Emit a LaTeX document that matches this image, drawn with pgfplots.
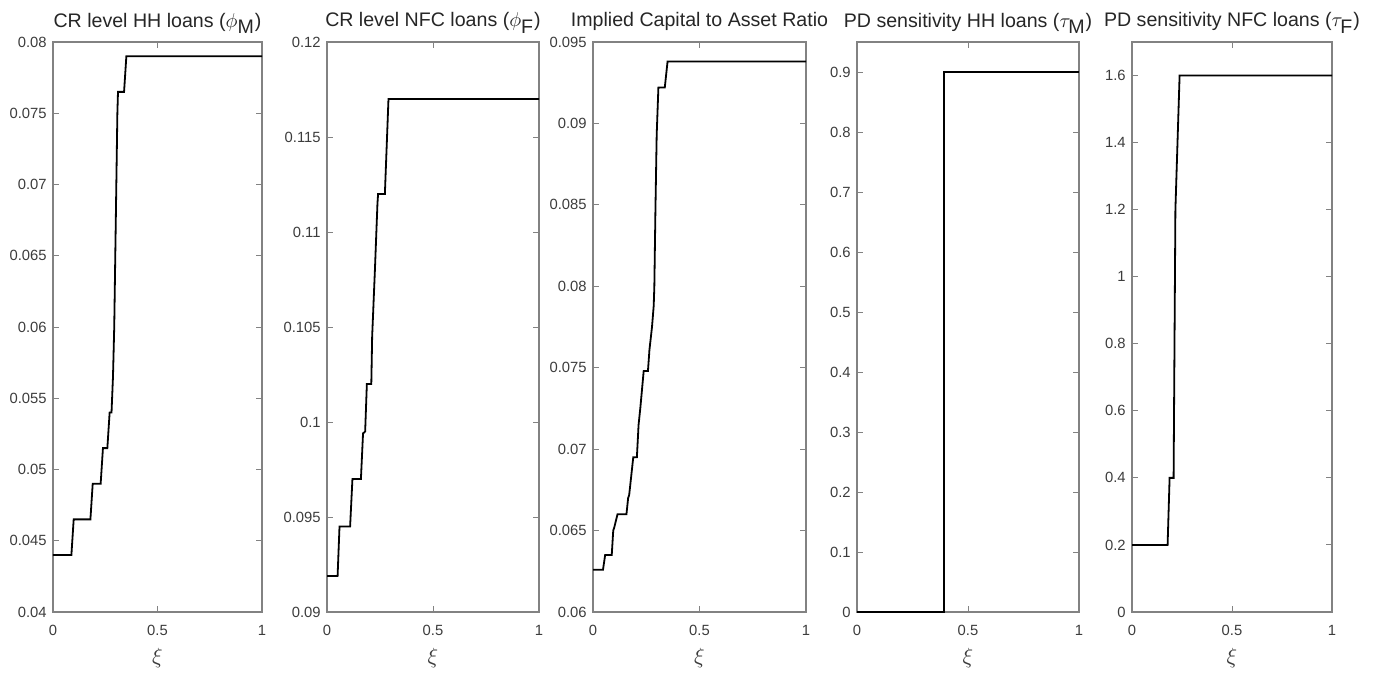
\documentclass[border=0pt]{standalone}
\usepackage{fontspec}
\setmainfont{Liberation Sans}
\usepackage{pgfplots}
\pgfplotsset{compat=1.18}
\definecolor{axgray}{RGB}{130,130,130}
\definecolor{lblgray}{RGB}{60,60,60}
\pgfplotsset{
  myax/.style={
    scale only axis, anchor=south west,
    height=285pt,
    xmin=0, xmax=1, xtick={0,0.5,1}, xticklabels={0,0.5,1},
    scaled ticks=false, scaled y ticks=false,
    axis line style={draw=axgray, line width=0.6pt},
    tick style={draw=axgray, line width=0.5pt},
    major tick length=2.8pt,
    tick align=inside,
    ticklabel style={font=\fontsize{7.4}{8.5}\selectfont, text=lblgray},
    /pgf/number format/assume math mode=true,
    xticklabel style={anchor=base, yshift=-11.5pt},
    yticklabel style={anchor=east, inner sep=0pt, xshift=-3pt},
    xlabel={$\xi$},
    xlabel style={font=\fontsize{10.5}{12}\selectfont, at={(axis description cs:0.5,0)}, anchor=center, yshift=-23pt, text=lblgray},
    cycle list={{black, mark=none}},
    every axis plot/.append style={line width=0.9pt},
  },
}
\tikzset{ttl/.style={anchor=base, font=\fontsize{9.8}{11}\selectfont, text=black!85, inner sep=0pt}}
\begin{document}
\begin{tikzpicture}
\useasboundingbox (0,0) rectangle (689pt,338pt);
% Panel 1
\begin{axis}[myax, name=a1, at={(26.5pt,32pt)}, width=104.5pt,
  ymin=0.04, ymax=0.08,
  ytick={0.04,0.045,0.05,0.055,0.06,0.065,0.07,0.075,0.08},
  yticklabels={0.04,0.045,0.05,0.055,0.06,0.065,0.07,0.075,0.08}]
\addplot[black, line width=0.9pt] coordinates {(0,0.044) (0.088,0.044) (0.099,0.0465) (0.179,0.0465) (0.19,0.049) (0.228,0.049) (0.239,0.0515) (0.26,0.0515) (0.271,0.054) (0.28,0.054) (0.287,0.0565) (0.293,0.06) (0.298,0.065) (0.303,0.07) (0.308,0.075) (0.311,0.0765) (0.34,0.0765) (0.351,0.079) (1,0.079)};
\end{axis}
\node[ttl] at ([yshift=7.5pt]a1.north) {CR level HH loans ($\phi_{\textrm{M}}$)};
% Panel 2
\begin{axis}[myax, name=a2, at={(163.5pt,32pt)}, width=106pt,
  ymin=0.09, ymax=0.12,
  ytick={0.09,0.095,0.1,0.105,0.11,0.115,0.12},
  yticklabels={0.09,0.095,0.1,0.105,0.11,0.115,0.12}]
\addplot[black, line width=0.9pt] coordinates {(0,0.0919) (0.05,0.0919) (0.059,0.0945) (0.109,0.0945) (0.12,0.097) (0.16,0.097) (0.17,0.0994) (0.18,0.0995) (0.188,0.102) (0.209,0.102) (0.213,0.1045) (0.226,0.108) (0.238,0.1115) (0.241,0.112) (0.273,0.112) (0.29,0.117) (1,0.117)};
\end{axis}
\node[ttl] at ([yshift=7.5pt]a2.north) {CR level NFC loans ($\phi_{\textrm{F}}$)};
% Panel 3
\begin{axis}[myax, name=a3, at={(296.5pt,32pt)}, width=106.5pt,
  ymin=0.06, ymax=0.095,
  ytick={0.06,0.065,0.07,0.075,0.08,0.085,0.09,0.095},
  yticklabels={0.06,0.065,0.07,0.075,0.08,0.085,0.09,0.095}]
\addplot[black, line width=0.9pt] coordinates {(0,0.0626) (0.047,0.0626) (0.057,0.0635) (0.088,0.0635) (0.095,0.065) (0.1,0.0652) (0.115,0.066) (0.157,0.066) (0.165,0.067) (0.17,0.0672) (0.189,0.0695) (0.206,0.0695) (0.214,0.0715) (0.222,0.0725) (0.238,0.0748) (0.258,0.0748) (0.265,0.0761) (0.277,0.0775) (0.285,0.0788) (0.288,0.08) (0.293,0.0846) (0.299,0.0893) (0.307,0.0922) (0.337,0.0922) (0.35,0.0938) (1,0.0938)};
\end{axis}
\node[ttl] at ([yshift=7.5pt]a3.north) {Implied Capital to Asset Ratio};
% Panel 4
\begin{axis}[myax, name=a4, at={(428.5pt,32pt)}, width=111pt,
  ymin=0, ymax=0.95,
  ytick={0,0.1,0.2,0.3,0.4,0.5,0.6,0.7,0.8,0.9},
  yticklabels={0,0.1,0.2,0.3,0.4,0.5,0.6,0.7,0.8,0.9}]
\addplot[black, line width=0.9pt] coordinates {(0,0) (0.392,0) (0.392,0.9) (1,0.9)};
\end{axis}
\node[ttl] at ([yshift=7.5pt]a4.north) {PD sensitivity HH loans ($\tau_{\textrm{M}}$)};
% Panel 5
\begin{axis}[myax, name=a5, at={(566pt,32pt)}, width=100pt,
  ymin=0, ymax=1.7,
  ytick={0,0.2,0.4,0.6,0.8,1,1.2,1.4,1.6},
  yticklabels={0,0.2,0.4,0.6,0.8,1,1.2,1.4,1.6}]
\addplot[black, line width=0.9pt] coordinates {(0,0.2) (0.178,0.2) (0.188,0.4) (0.208,0.4) (0.217,1.2) (0.238,1.6) (1,1.6)};
\end{axis}
\node[ttl] at ([yshift=7.5pt]a5.north) {PD sensitivity NFC loans ($\tau_{\textrm{F}}$)};
\end{tikzpicture}
\end{document}
